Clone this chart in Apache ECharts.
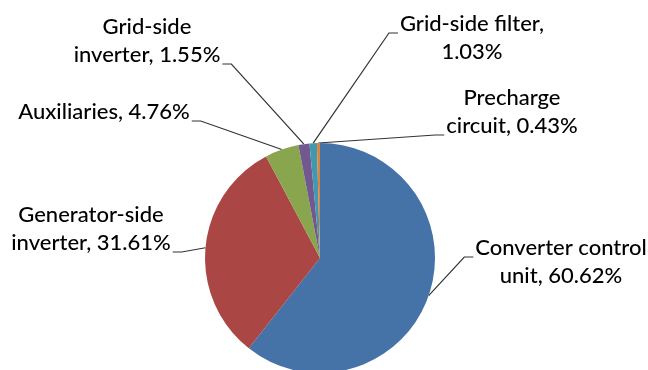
<!DOCTYPE html>
<html>
<head>
<meta charset="utf-8">
<script src="https://cdn.jsdelivr.net/npm/echarts@6/dist/echarts.min.js"></script>
<style>
  html, body { margin: 0; padding: 0; background: #ffffff; }
  #chart { width: 648px; height: 370px; }
</style>
</head>
<body>
<div id="chart"></div>
<script>
// Share of failures per converter component (%)
const components = [
  'Converter control unit',
  'Generator-side inverter',
  'Auxiliaries',
  'Grid-side inverter',
  'Grid-side filter',
  'Precharge circuit'
];
const shares = [60.62, 31.61, 4.76, 1.55, 1.03, 0.43];

// Label text, wrapped the way each name breaks; {v} is replaced by the share
const labelTemplates = [
  'Converter control\nunit, {v}%',
  'Generator-side\ninverter, {v}%',
  'Auxiliaries, {v}%',
  'Grid-side\ninverter, {v}%',
  'Grid-side filter,\n{v}%',
  'Precharge\ncircuit, {v}%'
];

const sliceColors = ['#4572A7', '#AA4643', '#89A54E', '#71588F', '#4198AF', '#DB843D'];

// Where each label block sits (centre) and which text line the leader attaches to
const labelPlacement = [
  { x: 561, y: 262, line: 0 },
  { x: 91,  y: 229, line: 1 },
  { x: 104, y: 112, line: 0 },
  { x: 147, y: 41,  line: 1 },
  { x: 472, y: 38,  line: 0 },
  { x: 512, y: 112, line: 1 }
];

const LINE_H = 28;
const TAIL = 9;

const pieData = components.map((name, i) => ({
  name: name,
  value: shares[i],
  itemStyle: { color: sliceColors[i] }
}));

const chart = echarts.init(document.getElementById('chart'), null, { renderer: 'canvas' });

chart.setOption({
  animation: false,
  backgroundColor: '#ffffff',
  series: [{
    type: 'pie',
    center: [320, 258],
    radius: 115,
    startAngle: 90,
    clockwise: true,
    avoidLabelOverlap: false,
    silent: true,
    data: pieData,
    itemStyle: { borderWidth: 0 },
    label: {
      show: true,
      position: 'outside',
      color: '#000000',
      fontFamily: 'Lato',
      fontWeight: 500,
      fontSize: 22,
      lineHeight: LINE_H,
      align: 'center',
      formatter: function (p) {
        return labelTemplates[p.dataIndex].replace('{v}', p.value.toFixed(2));
      }
    },
    labelLine: {
      show: true,
      length: 10,
      length2: TAIL,
      lineStyle: { color: '#333333', width: 1.2 }
    },
    labelLayout: function (params) {
      const p = labelPlacement[params.dataIndex];
      const w = params.labelRect.width;
      const h = params.labelRect.height;
      const left = p.x - w / 2;
      const top = p.y - h / 2;
      const res = { x: p.x, y: p.y, align: 'center', verticalAlign: 'middle' };
      const pts = params.labelLinePoints;
      if (pts && pts.length) {
        const anchor = pts[0];
        const onLeft = anchor[0] < p.x;
        const ex = onLeft ? left - 2 : left + w + 2;
        const ey = top + LINE_H * (p.line + 1) - 5;
        res.labelLinePoints = [
          [anchor[0], anchor[1]],
          [ex + (onLeft ? -TAIL : TAIL), ey],
          [ex, ey]
        ];
      }
      return res;
    }
  }]
});
</script>
</body>
</html>
